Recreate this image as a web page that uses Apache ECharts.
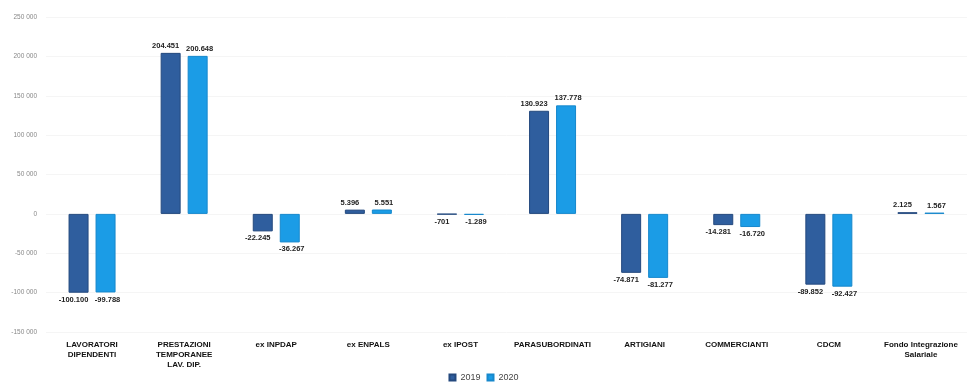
<!DOCTYPE html>
<html><head><meta charset="utf-8">
<script src="https://cdn.jsdelivr.net/npm/echarts@6/dist/echarts.min.js"></script>
<style>html,body{margin:0;padding:0;background:#fff}#c{width:967px;height:385px}</style>
</head><body><div id="c"></div>
<script>
const categories = ['LAVORATORI\nDIPENDENTI','PRESTAZIONI\nTEMPORANEE\nLAV. DIP.','ex INPDAP','ex ENPALS','ex IPOST','PARASUBORDINATI','ARTIGIANI','COMMERCIANTI','CDCM','Fondo Integrazione\nSalariale'];
const values2019 = [-100100, 204451, -22245, 5396, -701, 130923, -74871, -14281, -89852, 2125];
const values2020 = [-99788, 200648, -36267, 5551, -1289, 137778, -81277, -16720, -92427, 1567];
const seriesNames = ['2019','2020'];
const yTicks = {min:-150000, max:250000, interval:50000};

function fmtDot(v){
  const s = Math.abs(v).toString().replace(/\B(?=(\d{3})+(?!\d))/g,'.');
  return (v<0?'-':'')+s;
}
function fmtSpace(v){
  const s = Math.abs(v).toString().replace(/\B(?=(\d{3})+(?!\d))/g,' ');
  return (v<0?'-':'')+s;
}
function labelStyle(dx){
  return {show:true, formatter:p=>fmtDot(p.value), fontFamily:'Liberation Sans, Arial', fontWeight:'bold', fontSize:7.5, color:'#222', distance:3, offset:[dx,0]};
}
function mkData(arr){
  return arr.map(v=>({value:v, label:{position: v<0?'bottom':'top'}}));
}
const chart = echarts.init(document.getElementById('c'), null, {renderer:'canvas'});
chart.setOption({
  animation:false,
  color:['#2f5e9e','#1b9ce6'],
  legend:{data:seriesNames, bottom:-2, left:'center', itemWidth:6, itemHeight:6, itemGap:6, icon:'rect',
    textStyle:{fontFamily:'Liberation Sans, Arial', fontSize:9, color:'#444'}},
  grid:{left:46, right:-7, top:17, bottom:53, containLabel:false},
  xAxis:{type:'category', data:categories, axisLine:{show:false}, axisTick:{show:false},
    axisLabel:{interval:0, margin:8, fontFamily:'Liberation Sans, Arial', fontWeight:'bold', fontSize:8, color:'#111', lineHeight:10, verticalAlign:'top'}},
  yAxis:{type:'value', min:yTicks.min, max:yTicks.max, interval:yTicks.interval,
    axisLine:{show:false}, axisTick:{show:false},
    splitLine:{lineStyle:{color:'#f5f5f5', width:1}},
    axisLabel:{formatter:fmtSpace, fontFamily:'Liberation Sans, Arial', fontSize:6.5, color:'#888', margin:9}},
  series:[
    {name:seriesNames[0], type:'bar', data:mkData(values2019), barWidth:20, barGap:'35%',
      itemStyle:{color:'#2f5e9e', borderColor:'#24497e', borderWidth:1}, label:labelStyle(-5)},
    {name:seriesNames[1], type:'bar', data:mkData(values2020), barWidth:20,
      itemStyle:{color:'#1b9ce6', borderColor:'#1788cc', borderWidth:1}, label:labelStyle(2)}
  ]
});
</script></body></html>
